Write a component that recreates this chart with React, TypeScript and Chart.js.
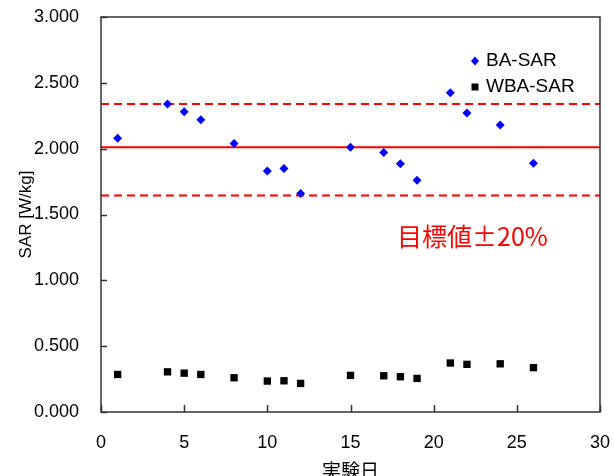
import React, { useEffect, useRef } from 'react';
import { Chart, registerables } from 'chart.js';

Chart.register(...registerables);

// ---- data ----
const days = [1, 4, 5, 6, 8, 10, 11, 12, 15, 17, 18, 19, 21, 22, 24, 26];
const baSar = [2.08, 2.34, 2.28, 2.22, 2.04, 1.83, 1.85, 1.66, 2.01, 1.97, 1.885, 1.76, 2.425, 2.27, 2.18, 1.89];
const wbaSar = [0.285, 0.305, 0.295, 0.285, 0.26, 0.235, 0.237, 0.217, 0.278, 0.275, 0.268, 0.255, 0.372, 0.362, 0.366, 0.337];
const seriesLabels = ['BA-SAR', 'WBA-SAR'];
const targetValue = 2.01;
const upperLimit = 2.34;
const lowerLimit = 1.645;
const xMin = 0;
const xMax = 30;
const xStep = 5;
const yMin = 0;
const yMax = 3;
const yStep = 0.5;
const xTitle = '実験日';
const yTitle = 'SAR [W/kg]';
const annotationText = '目標値±20%';
const annotationAt = { x: 17.8, y: 1.33 };

const LATIN = '"Liberation Sans", Arial, sans-serif';
const CJK = '"Noto Sans CJK JP", "Liberation Sans", sans-serif';

const framePlugin = {
  id: 'frameAndExtras',
  afterDatasetsDraw(chart: any) {
    const { ctx, chartArea } = chart;
    const xs = chart.scales.x;
    const ys = chart.scales.y;
    ctx.save();
    // frame
    ctx.strokeStyle = '#333';
    ctx.lineWidth = 1.5;
    ctx.strokeRect(chartArea.left, chartArea.top, chartArea.right - chartArea.left, chartArea.bottom - chartArea.top);
    // inward ticks
    ctx.beginPath();
    for (let v = yMin; v <= yMax + 1e-9; v += yStep) {
      const py = Math.round(ys.getPixelForValue(v)) + 0.5;
      ctx.moveTo(chartArea.left, py);
      ctx.lineTo(chartArea.left + 6, py);
    }
    for (let v = xMin; v <= xMax + 1e-9; v += xStep) {
      const px = Math.round(xs.getPixelForValue(v)) + 0.5;
      ctx.moveTo(px, chartArea.bottom);
      ctx.lineTo(px, chartArea.bottom - 7);
    }
    ctx.stroke();

    // legend
    const lx = chartArea.right - 125;
    const ly1 = chartArea.top + 44;
    const ly2 = chartArea.top + 70;
    ctx.fillStyle = '#0000ff';
    ctx.beginPath();
    ctx.moveTo(lx, ly1 - 4.5);
    ctx.lineTo(lx + 4, ly1);
    ctx.lineTo(lx, ly1 + 4.5);
    ctx.lineTo(lx - 4, ly1);
    ctx.closePath();
    ctx.fill();
    ctx.fillStyle = '#000';
    ctx.fillRect(lx - 3.5, ly2 - 3.5, 7, 7);
    ctx.font = `19px ${LATIN}`;
    ctx.textBaseline = 'middle';
    ctx.textAlign = 'left';
    ctx.fillStyle = '#000';
    ctx.fillText(seriesLabels[0], lx + 11, ly1);
    ctx.fillText(seriesLabels[1], lx + 11, ly2);

    // annotation
    ctx.fillStyle = '#ff0000';
    ctx.font = `25px ${CJK}`;
    ctx.textBaseline = 'middle';
    ctx.fillText(annotationText, xs.getPixelForValue(annotationAt.x), ys.getPixelForValue(annotationAt.y));
    ctx.restore();
  },
};

export default function App() {
  const ref = useRef<HTMLCanvasElement | null>(null);
  useEffect(() => {
    if (!ref.current) return;
    const lineData = (v: number) => [
      { x: xMin, y: v },
      { x: xMax, y: v },
    ];
    const chart = new Chart(ref.current, {
      type: 'scatter',
      data: {
        datasets: [
          {
            label: seriesLabels[0],
            data: days.map((d, i) => ({ x: d, y: baSar[i] })),
            backgroundColor: '#0000ff',
            borderColor: '#0000ff',
            pointStyle: 'rectRot',
            pointRadius: 4.5,
            pointBorderWidth: 0,
            order: 0,
          },
          {
            label: seriesLabels[1],
            data: days.map((d, i) => ({ x: d, y: wbaSar[i] })),
            backgroundColor: '#000',
            borderColor: '#000',
            pointStyle: 'rect',
            pointRadius: 5.2,
            pointBorderWidth: 0,
            order: 1,
          },
          {
            label: 'target',
            data: lineData(targetValue),
            showLine: true,
            borderColor: '#ff0000',
            borderWidth: 2,
            pointRadius: 0,
            order: 5,
          },
          {
            label: 'upper',
            data: lineData(upperLimit),
            showLine: true,
            borderColor: '#ff0000',
            borderWidth: 2,
            borderDash: [8, 5],
            pointRadius: 0,
            order: 5,
          },
          {
            label: 'lower',
            data: lineData(lowerLimit),
            showLine: true,
            borderColor: '#ff0000',
            borderWidth: 2,
            borderDash: [8, 5],
            pointRadius: 0,
            order: 5,
          },
        ],
      },
      options: {
        animation: false,
        responsive: false,
        maintainAspectRatio: false,
        layout: { padding: { top: 17, right: 14, left: 0, bottom: 0 } },
        plugins: {
          legend: { display: false },
          tooltip: { enabled: false },
        },
        scales: {
          x: {
            type: 'linear',
            min: xMin,
            max: xMax,
            border: { display: false },
            grid: { display: false, drawTicks: false },
            ticks: {
              stepSize: xStep,
              padding: 20,
              color: '#000',
              font: { size: 18, family: LATIN },
              maxRotation: 0,
            },
            title: {
              display: true,
              text: xTitle,
              color: '#000',
              font: { size: 19, family: CJK, lineHeight: 1 },
              padding: { top: 0, bottom: -4 },
            },
            afterFit: (s: any) => {
              s.height = 64;
              s.paddingLeft = 0;
              s.paddingRight = 0;
            },
          },
          y: {
            type: 'linear',
            min: yMin,
            max: yMax,
            border: { display: false },
            grid: { display: false, drawTicks: false },
            ticks: {
              stepSize: yStep,
              padding: 22,
              color: '#000',
              font: { size: 18, family: LATIN },
              callback: (v: any) => Number(v).toFixed(3),
            },
            title: {
              display: true,
              text: yTitle,
              color: '#000',
              font: { size: 17, family: LATIN, lineHeight: 1.2 },
              padding: { top: 16, bottom: 0 },
            },
            afterFit: (s: any) => {
              s.width = 101;
              s.paddingTop = 0;
              s.paddingBottom = 0;
            },
          },
        },
      },
      plugins: [framePlugin],
    });
    return () => chart.destroy();
  }, []);
  return (
    <div style={{ position: 'fixed', left: 0, top: 0, width: 614, height: 476, background: '#fff' }}>
      <canvas ref={ref} width={614} height={476} style={{ width: 614, height: 476 }} />
    </div>
  );
}
